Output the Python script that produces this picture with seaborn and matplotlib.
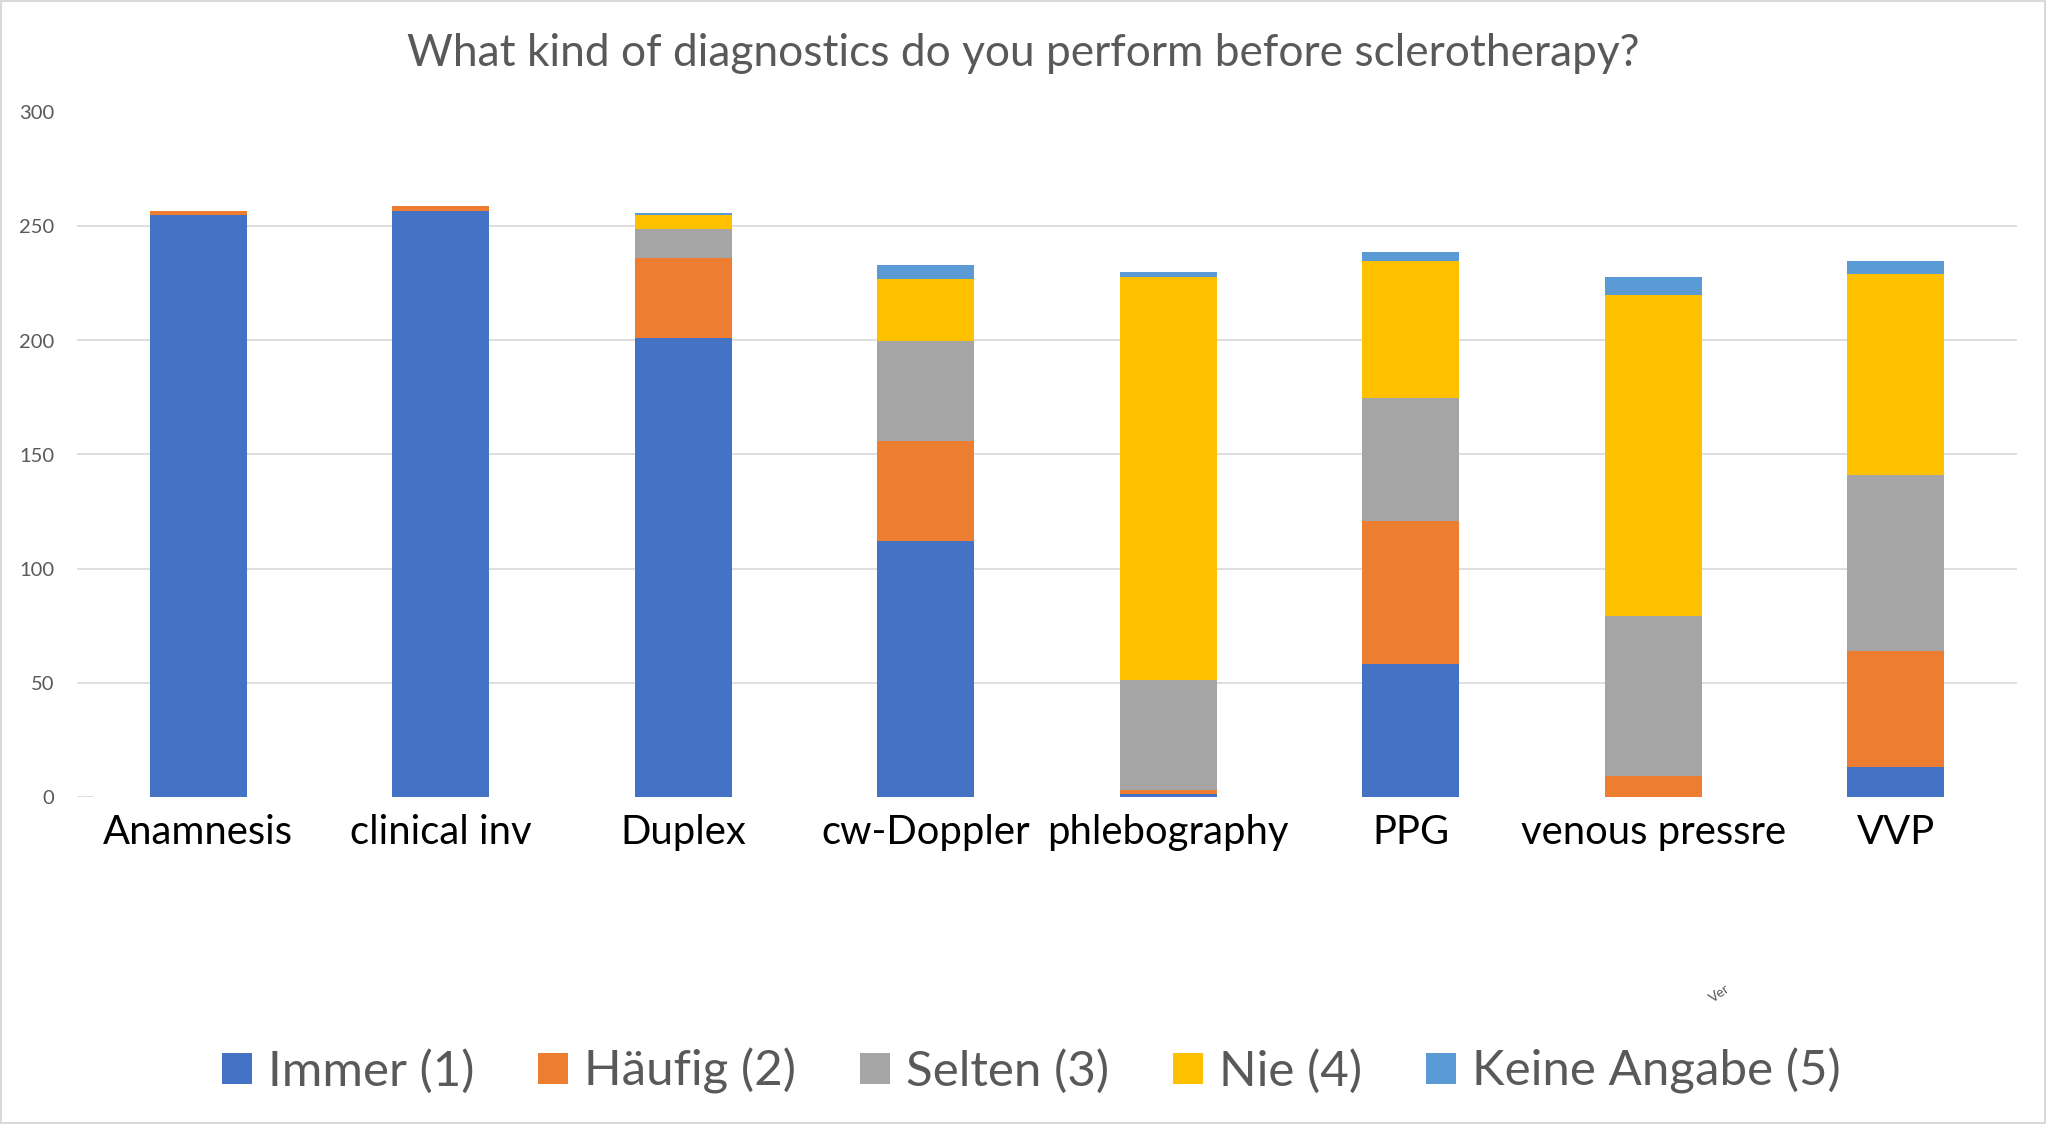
import matplotlib
matplotlib.use("Agg")
import matplotlib.pyplot as plt
import seaborn as sns
import numpy as np
import pandas as pd
from matplotlib.patches import Patch, Rectangle

# ---- data ----
categories = ["Anamnesis", "clinical inv", "Duplex", "cw-Doppler",
              "phlebography", "PPG", "venous pressre", "VVP"]
series_names = ["Immer (1)", "Häufig (2)", "Selten (3)", "Nie (4)", "Keine Angabe (5)"]
immer = [255, 257, 201, 112, 1, 58, 0, 13]
haeufig = [2, 2, 35, 44, 2, 63, 9, 51]
selten = [0, 0, 13, 44, 48, 54, 70, 77]
nie = [0, 0, 6, 27, 177, 60, 141, 88]
keine = [0, 0, 1, 6, 2, 4, 8, 6]
y_ticks = [0, 50, 100, 150, 200, 250, 300]
title = "What kind of diagnostics do you perform before sclerotherapy?"

colors = ["#4472C4", "#ED7D31", "#A5A5A5", "#FFC000", "#5B9BD5"]

sns.set_style("white")
plt.rcParams["font.family"] = ["Lato", "DejaVu Sans"]

W, H = 2046, 1124
fig = plt.figure(figsize=(W / 100, H / 100), dpi=100)
ax = fig.add_axes([77 / W, 1 - 796.5 / H, 1940 / W, 684 / H])

values = [immer, haeufig, selten, nie, keine]
bottom = np.zeros(len(categories))
for name, vals, col in zip(series_names, values, colors):
    df = pd.DataFrame({"cat": categories, "val": vals})
    sns.barplot(data=df, x="cat", y="val", order=categories, color=col,
                width=0.4, bottom=bottom, ax=ax, errorbar=None,
                saturation=1, linewidth=0, zorder=3)
    bottom = bottom + np.array(vals)

ax.set_xlim(-0.5, len(categories) - 0.5)
ax.set_ylim(0, 300)
ax.set_yticks(y_ticks)
ax.set_xlabel("")
ax.set_ylabel("")
for s in ax.spines.values():
    s.set_visible(False)
ax.yaxis.grid(True, color="#D9D9D9", linewidth=1.2, zorder=0)
ax.set_axisbelow(True)
ax.get_ygridlines()[0].set_visible(False)
ax.axhline(0, xmin=0, xmax=16 / 1940, color="#D9D9D9", linewidth=1.2, zorder=0)

ax.tick_params(axis="y", length=0, pad=16.5, labelsize=14.5, labelcolor="#595959")
ax.tick_params(axis="x", length=0, pad=12.5, labelsize=28.8, labelcolor="black")

# title
fig.text(0.5, 1 - 66 / H, title, ha="center", va="baseline",
         fontsize=31.9, color="#595959")

# legend
handles = [Patch(facecolor=c, edgecolor="none", label=n) for c, n in zip(colors, series_names)]
fig.legend(handles=handles, loc="center", bbox_to_anchor=(1031.5 / W, 1 - 1071 / H),
           ncol=5, frameon=False, fontsize=35.5, labelcolor="#595959",
           handlelength=0.6, handleheight=0.6, handletextpad=0.33,
           columnspacing=1.3, borderaxespad=0)

# small clipped label
fig.text(1720 / W, 1 - 993 / H, "Ver", rotation=35, fontsize=10,
         color="#595959", ha="center", va="center")

# chart border
fig.patches.append(Rectangle((0.0003, 0.0005), 0.9993, 0.999, transform=fig.transFigure,
                             fill=False, edgecolor="#D9D9D9", linewidth=1.5))

fig.savefig("out.png", dpi=100)
